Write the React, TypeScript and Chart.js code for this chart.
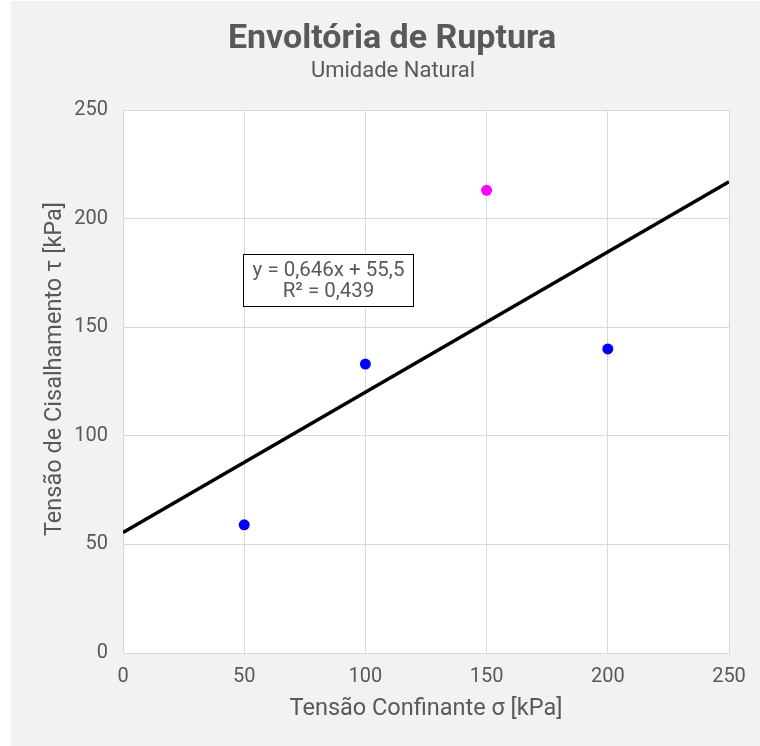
import React, { useEffect, useRef } from "react";
import { Chart, registerables } from "chart.js";

Chart.register(...registerables);

const confining: number[] = [50, 100, 150, 200];
const shear: number[] = [59, 133, 213, 140];
const pointColors: string[] = ["#0000ff", "#0000ff", "#ff00ff", "#0000ff"];
const trendX: number[] = [0, 250];
const trendY: number[] = [55.5, 217.0];
const titleText = "Envoltória de Ruptura";
const subtitleText = "Umidade Natural";
const xTitle = "Tensão Confinante σ [kPa]";
const yTitle = "Tensão de Cisalhamento τ [kPa]";
const eqLines: string[] = ["y = 0,646x + 55,5", "R² = 0,439"];

const FONT = "Roboto, 'Liberation Sans', Arial, sans-serif";
const TXT = "#595959";

const bgPlugin = {
  id: "bgPlugin",
  beforeDraw(chart: any) {
    const { ctx, width, height, chartArea } = chart;
    ctx.save();
    ctx.fillStyle = "#ffffff";
    ctx.fillRect(0, 0, width, height);
    ctx.fillStyle = "#f2f2f2";
    ctx.fillRect(11, 1, width - 11, height - 1);
    ctx.fillStyle = "#ffffff";
    ctx.fillRect(chartArea.left, chartArea.top, chartArea.right - chartArea.left, chartArea.bottom - chartArea.top);
    ctx.restore();
  },
  afterDraw(chart: any) {
    const { ctx, chartArea } = chart;
    ctx.save();
    ctx.fillStyle = TXT;
    ctx.textAlign = "center";
    ctx.textBaseline = "middle";
    ctx.font = `bold 34px ${FONT}`;
    ctx.fillText(titleText, 392, 39);
    ctx.font = `22px ${FONT}`;
    ctx.fillText(subtitleText, 393, 71);
    ctx.font = `23.5px ${FONT}`;
    ctx.fillText(xTitle, (chartArea.left + chartArea.right) / 2, 709);
    ctx.translate(55, 369);
    ctx.rotate(-Math.PI / 2);
    ctx.fillText(yTitle, 0, 0);
    ctx.restore();
  },
};

const eqPlugin = {
  id: "eqPlugin",
  afterDatasetsDraw(chart: any) {
    const { ctx } = chart;
    const x0 = 243.5, y0 = 254.5, w = 170, h = 52;
    ctx.save();
    ctx.fillStyle = "#ffffff";
    ctx.fillRect(x0, y0, w, h);
    ctx.strokeStyle = "#000000";
    ctx.lineWidth = 1;
    ctx.strokeRect(x0, y0, w, h);
    ctx.fillStyle = TXT;
    ctx.textAlign = "center";
    ctx.textBaseline = "middle";
    ctx.font = `20.5px ${FONT}`;
    ctx.fillText(eqLines[0], x0 + w / 2, y0 + 16);
    ctx.fillText(eqLines[1], x0 + w / 2, y0 + 37);
    ctx.restore();
  },
};

export default function App() {
  const ref = useRef<HTMLCanvasElement | null>(null);
  useEffect(() => {
    if (!ref.current) return;
    const chart = new Chart(ref.current, {
      type: "scatter",
      data: {
        datasets: [
          {
            type: "line",
            data: trendX.map((x, i) => ({ x, y: trendY[i] })),
            borderColor: "#000000",
            borderWidth: 3.5,
            pointRadius: 0,
            fill: false,
            order: 2,
          } as any,
          {
            type: "scatter",
            data: confining.map((x, i) => ({ x, y: shear[i] })),
            backgroundColor: pointColors,
            borderColor: pointColors,
            pointRadius: 5.5,
            pointBorderWidth: 0,
            order: 1,
          },
        ],
      },
      options: {
        animation: false,
        responsive: false,
        maintainAspectRatio: false,
        layout: { padding: { left: 0, right: 31, top: 110, bottom: 0 } },
        plugins: {
          legend: { display: false },
          tooltip: { enabled: false },
          title: { display: false },
        },
        scales: {
          x: {
            type: "linear",
            min: 0,
            max: 250,
            afterFit: (s: any) => { s.height = 93; },
            ticks: { stepSize: 50, color: TXT, font: { family: FONT, size: 20 }, padding: 12 },
            grid: { color: "#d9d9d9", lineWidth: 1, drawTicks: false },
            border: { color: "#d9d9d9", width: 1 },
          },
          y: {
            type: "linear",
            min: 0,
            max: 250,
            afterFit: (s: any) => { s.width = 123; },
            ticks: { stepSize: 50, color: TXT, font: { family: FONT, size: 20 }, padding: 15 },
            grid: { color: "#d9d9d9", lineWidth: 1, drawTicks: false },
            border: { color: "#d9d9d9", width: 1 },
          },
        },
      },
      plugins: [bgPlugin, eqPlugin],
    });
    return () => chart.destroy();
  }, []);
  return (
    <div style={{ position: "absolute", left: 0, top: 0, width: 760, height: 746 }}>
      <canvas ref={ref} width={760} height={746} style={{ display: "block", width: 760, height: 746 }} />
    </div>
  );
}
